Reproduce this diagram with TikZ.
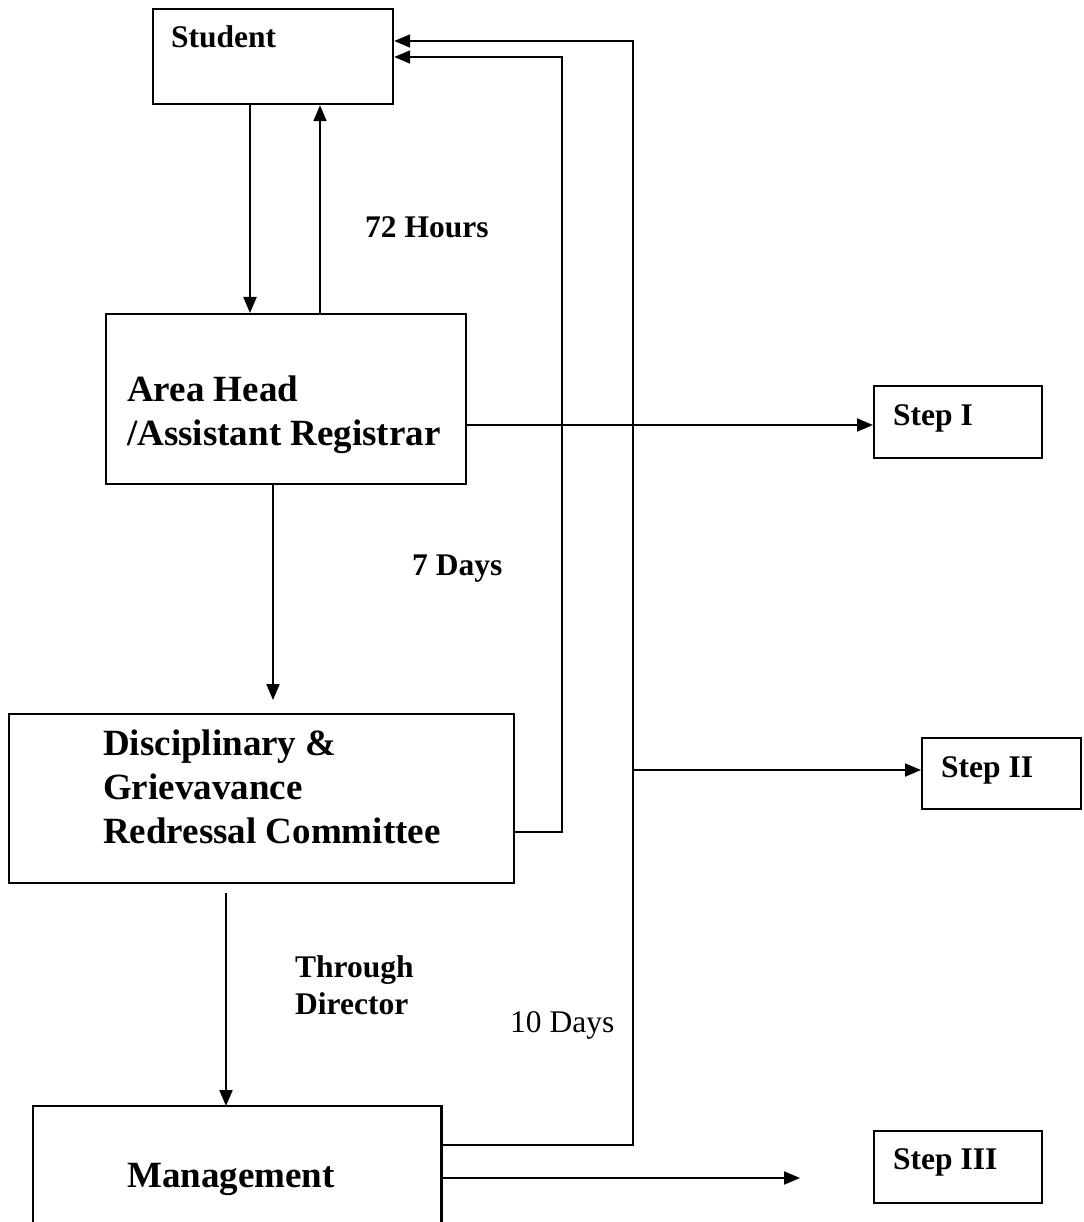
\documentclass[tikz,border=0pt]{standalone}
\usepackage{fontspec}
\setmainfont{Liberation Serif}
\usetikzlibrary{arrows.meta}
\begin{document}
\begin{tikzpicture}[x=1pt,y=-1pt,
  box/.style={draw,line width=2.2pt,inner sep=0pt,anchor=north west},
  arr/.style={line width=2pt,-{Triangle[length=16pt,width=13pt]}},
  ln/.style={line width=2.2pt},
  big/.style={inner sep=0pt,anchor=base west,font=\fontsize{37}{44}\selectfont\bfseries,align=left},
  small/.style={inner sep=0pt,anchor=base west,font=\fontsize{31.5}{37}\selectfont\bfseries,align=left},
  plain/.style={inner sep=0pt,anchor=base west,font=\fontsize{31.5}{37}\selectfont}]
\useasboundingbox (0,0) rectangle (1083,1222);
\clip (0,0) rectangle (1083,1222);
% boxes
\node[box,minimum width=240pt,minimum height=95pt] (student) at (152,8) {};
\node[box,minimum width=360pt,minimum height=170pt] (areah) at (105,313) {};
\node[box,minimum width=505pt,minimum height=169pt] (dgrc) at (8,713) {};
\node[box,minimum width=168pt,minimum height=72pt] (stepone) at (873,385) {};
\node[box,minimum width=159pt,minimum height=71pt] (steptwo) at (921,737) {};
\node[box,minimum width=168pt,minimum height=72pt] (stepthree) at (873,1130) {};
% management box (open at the bottom edge of the picture)
\node[inner sep=0pt,anchor=north west,minimum width=408pt,minimum height=130pt] (mgmt) at (33,1106) {};
\draw[ln] (mgmt.south west) -- (mgmt.north west) -- (mgmt.north east) -- (mgmt.south east);
% texts
\node[small] (tstudent) at (171,48) {Student};
\node[big] (tareah) at (127,445) {Area Head\\/Assistant Registrar};
\node[big] (tdgrc) at (103,843) {Disciplinary \&\\Grievavance\\Redressal Committee};
\node[big] (tmgmt) at (127,1187) {Management};
\node[small] (tstepone) at (893,425) {Step I};
\node[small] (tsteptwo) at (941,777) {Step II};
\node[small] (tstepthree) at (893,1169) {Step III};
\node[small] (l72) at (365,238) {72 Hours};
\node[small] (l7) at (412,575) {7 Days};
\node[small] (lthrough) at (295,1014) {Through\\Director};
\node[plain] (l10) at (510,1032) {10 Days};
% connectors
\draw[arr] ([xshift=98pt]student.south west) -- ([xshift=145pt]areah.north west);
\draw[arr] ([xshift=215pt]areah.north west) -- ([xshift=168pt]student.south west);
\draw[arr] ([yshift=-112pt]areah.north east) coordinate (a1) -- (a1 -| stepone.west);
\draw[arr] ([xshift=168pt]areah.south west) -- ([xshift=265pt,yshift=13pt]dgrc.north west);
\draw[arr] ([xshift=218pt,yshift=-9pt]dgrc.south west) -- ([xshift=193pt]mgmt.north west);
\draw[arr] ([yshift=-119pt]dgrc.north east) -- ++(47,0) |- ([yshift=-49pt]student.north east);
\draw[arr] ([yshift=-39pt]mgmt.north east) -- ++(192,0) |- ([yshift=-33pt]student.north east);
\coordinate (j2) at (633,770);
\draw[arr] (j2) -- (j2 -| steptwo.west);
\coordinate (s3end) at (800,1178);
\draw[arr] ([yshift=-72pt]mgmt.north east) -- (s3end);
\end{tikzpicture}
\end{document}
